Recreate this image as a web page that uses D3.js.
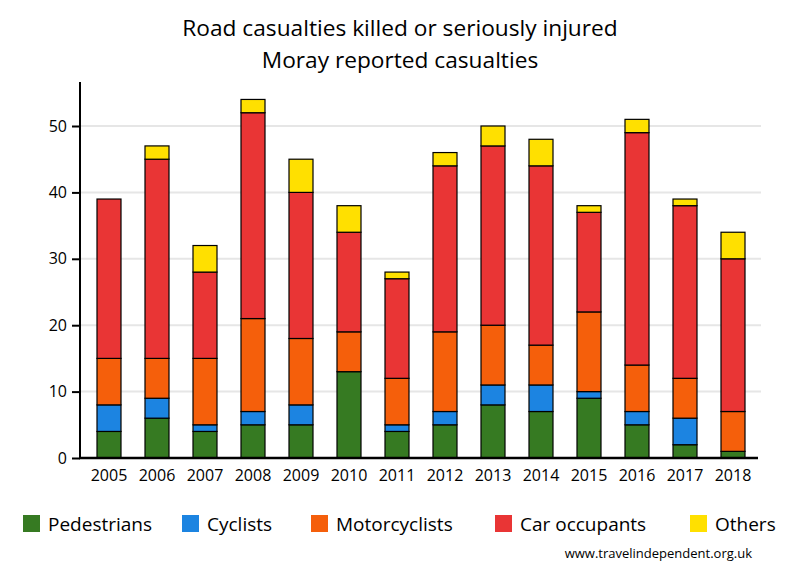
<!DOCTYPE html>
<html><head><meta charset="utf-8">
<script src="https://cdn.jsdelivr.net/npm/d3@7"></script>
<style>body{margin:0;background:#fff}svg{display:block}text{font-family:"Open Sans",sans-serif;fill:#000}</style>
</head><body><svg id="c" width="800" height="580"></svg>
<script>
const years = ["2005","2006","2007","2008","2009","2010","2011","2012","2013","2014","2015","2016","2017","2018"];
const pedestrians   = [4,6,4,5,5,13,4,5,8,7,9,5,2,1];
const cyclists      = [4,3,1,2,3,0,1,2,3,4,1,2,4,0];
const motorcyclists = [7,6,10,14,10,6,7,12,9,6,12,7,6,6];
const carOccupants  = [24,30,13,31,22,15,15,25,27,27,15,35,26,23];
const others        = [0,2,4,2,5,4,1,2,3,4,1,2,1,4];
const seriesNames = ["Pedestrians","Cyclists","Motorcyclists","Car occupants","Others"];
const colors = ["#367a22","#1c84e1","#f55f0b","#e93535","#ffe000"];
const yTicks = [0,10,20,30,40,50];

const seriesData = [pedestrians,cyclists,motorcyclists,carOccupants,others];
const rows = years.map((y,i)=>{const r={year:y};seriesNames.forEach((s,j)=>r[s]=seriesData[j][i]);return r;});
const stacked = d3.stack().keys(seriesNames)(rows);

const svg = d3.select("#c");
const x = d3.scaleBand().domain(years).range([85,757]).paddingInner(0.5).paddingOuter(0.25);
const y = d3.scaleLinear().domain([0,50]).range([458,126]);

// grid
svg.append("g").selectAll("line").data(yTicks.filter(t=>t>0)).join("line")
  .attr("x1",81).attr("x2",761).attr("y1",d=>y(d)).attr("y2",d=>y(d))
  .attr("stroke","#e6e6e6").attr("stroke-width",2);

// bars
svg.append("g").selectAll("g").data(stacked).join("g")
  .attr("fill",(d,i)=>colors[i])
  .selectAll("rect").data(d=>d.filter(p=>p[1]-p[0]>0)).join("rect")
  .attr("x",d=>x(d.data.year)).attr("width",x.bandwidth())
  .attr("y",d=>y(d[1])).attr("height",d=>y(d[0])-y(d[1]))
  .attr("stroke","#000").attr("stroke-width",1.2);

// axes
const yAxis = svg.append("g").attr("transform","translate(80,0)")
  .call(d3.axisLeft(y).tickValues(yTicks).tickSize(8).tickPadding(5));
yAxis.select(".domain").remove();
yAxis.selectAll(".tick line").attr("stroke","#000").attr("stroke-width",2);
yAxis.selectAll("text").style("font-size","16px").style("font-family","'Open Sans',sans-serif");
svg.append("line").attr("x1",80).attr("x2",80).attr("y1",82).attr("y2",459).attr("stroke","#000").attr("stroke-width",2);

const xAxis = svg.append("g").attr("transform","translate(0,458)")
  .call(d3.axisBottom(x).tickSize(0).tickPadding(12));
xAxis.select(".domain").remove();
xAxis.selectAll("text").style("font-size","16px").style("font-family","'Open Sans',sans-serif");
svg.append("line").attr("x1",79).attr("x2",758).attr("y1",458).attr("y2",458).attr("stroke","#000").attr("stroke-width",2.5);

// title
svg.append("text").attr("x",400).attr("y",36).attr("text-anchor","middle").style("font-size","22.7px").text("Road casualties killed or seriously injured");
svg.append("text").attr("x",400).attr("y",68).attr("text-anchor","middle").style("font-size","22.7px").text("Moray reported casualties");

// legend
const legX = [23,182,311,495,690];
const leg = svg.append("g").selectAll("g").data(seriesNames).join("g")
  .attr("transform",(d,i)=>`translate(${legX[i]},515)`);
leg.append("rect").attr("width",17).attr("height",17).attr("fill",(d,i)=>colors[i]);
leg.append("text").attr("x",25).attr("y",15.5).style("font-size","19px").text(d=>d);

svg.append("text").attr("x",752).attr("y",558).attr("text-anchor","end").style("font-size","13px").text("www.travelindependent.org.uk");
</script></body></html>
